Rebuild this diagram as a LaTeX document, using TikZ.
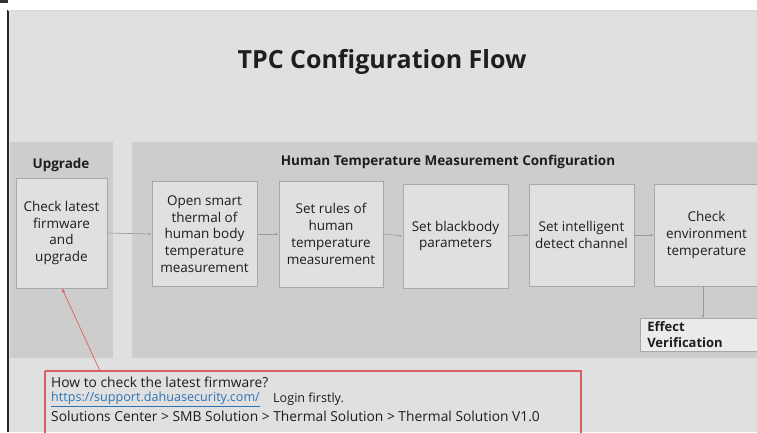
\documentclass[tikz,border=0pt]{standalone}
\usepackage{fontspec}
\setmainfont{Open Sans}
\usetikzlibrary{arrows.meta}
\definecolor{bgc}{HTML}{E0E0E0}
\definecolor{panelc}{HTML}{CDCDCD}
\definecolor{boxc}{HTML}{E0E0E0}
\definecolor{boxline}{HTML}{A8A8A8}
\definecolor{arrc}{HTML}{9A9A9A}
\definecolor{redc}{HTML}{D9534F}
\definecolor{calloutline}{RGB}{214,96,96}
\definecolor{linkc}{HTML}{2E74B5}
\definecolor{txt}{HTML}{1E1E1E}
\tikzset{
  stepbox/.style={draw=boxline, fill=boxc, line width=0.8pt, align=center, inner sep=2pt,
    font=\fontsize{13.5}{16.8}\selectfont, text=txt},
  flow/.style={draw=arrc, line width=0.6pt, -{Latex[length=3pt,width=2.5pt]}},
  head/.style={font=\bfseries\fontsize{13.5}{15}\selectfont, text=txt},
  note/.style={font=\fontsize{13.8}{15}\selectfont, text=txt, anchor=west, inner sep=0pt}
}
\begin{document}
\begin{tikzpicture}[x=1pt,y=-1pt]
\useasboundingbox (0,0) rectangle (757,432);
\fill[white] (0,0) rectangle (757,432);
\fill[bgc] (8,10) rectangle (757,432);
\draw[black!85, line width=1.6pt] (8,10) -- (8,432);
\draw[black!15, line width=0.8pt] (8,10) -- (757,10);
\fill[black!80] (0,0) rectangle (8,3);
\node[font=\bfseries\fontsize{25}{28}\selectfont, text=txt] (title) at (382,62) {TPC Configuration Flow};
\fill[panelc] (10,142) rectangle (113,358);
\fill[panelc] (132,142) rectangle (757,358);
\node[head] (up) at (61,165) {Upgrade};
\node[head] (hc) at (448,162) {Human Temperature Measurement Configuration};
\node[stepbox, minimum width=91pt, minimum height=110pt] (b0) at (61.5,233) {Check latest\\firmware\\and\\upgrade};
\node[stepbox, minimum width=105pt, minimum height=105pt] (b1) at (204.5,234) {Open smart\\thermal of\\human body\\temperature\\measurement};
\node[stepbox, minimum width=104pt, minimum height=106pt] (b2) at (331,234) {Set rules of\\human\\temperature\\measurement};
\node[stepbox, minimum width=105pt, minimum height=104pt] (b3) at (455.5,236) {Set blackbody\\parameters};
\node[stepbox, minimum width=105pt, minimum height=102pt] (b4) at (581.5,235) {Set intelligent\\detect channel};
\node[stepbox, minimum width=105pt, minimum height=102pt] (b5) at (706.5,235) {Check\\environment\\temperature};
\draw[flow] (b0.east) -- (b1.west);
\draw[flow] (b1.east) -- (b2.west);
\draw[flow] (b2.east) -- (b3.west);
\draw[flow] (b3.east) -- (b4.west);
\draw[flow] (b4.east) -- (b5.west);
\node[draw=boxline, fill=black!8, line width=0.6pt, minimum width=120pt, minimum height=33pt, anchor=north west, align=left, inner xsep=6pt, inner ysep=3pt, font=\bfseries\fontsize{13}{15.5}\selectfont, text=txt, text width=106pt] (ev) at (640,318) {Effect\\Verification};
\coordinate (evtop) at (703,318);
\draw[flow] (b5.south -| evtop) -- (evtop);
\draw[draw=calloutline, line width=1.1pt] (45,371) -- (581,371) -- (581,440) (45,371) -- (45,440);
\coordinate (cb) at (100,371);
\draw[redc, line width=0.6pt, -{Latex[length=4pt,width=3pt]}] (cb) -- (b0.south -| 62,0);
\node[note] (n1) at (51,382) {How to check the latest firmware?};
\node[note, text=linkc, font=\fontsize{12.6}{15}\selectfont] (n2) at (51,399) {\underline{https://support.dahuasecurity.com/}};
\node[note, font=\fontsize{12.6}{15}\selectfont] (n2b) at (273,399) {Login firstly.};
\node[note] (n3) at (51,416) {Solutions Center > SMB Solution > Thermal Solution > Thermal Solution V1.0};
\end{tikzpicture}
\end{document}
